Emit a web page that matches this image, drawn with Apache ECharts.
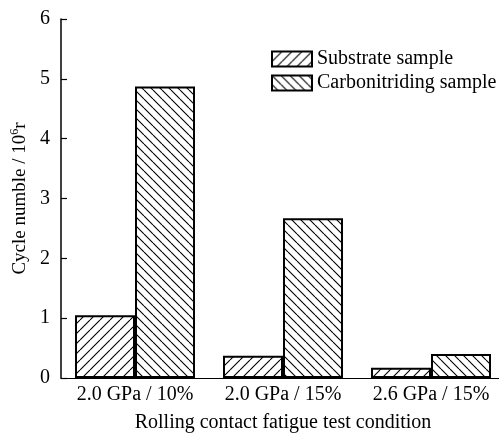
<!DOCTYPE html>
<html>
<head>
<meta charset="utf-8">
<script src="https://cdn.jsdelivr.net/npm/echarts@6/dist/echarts.min.js"></script>
<style>
  html, body { margin: 0; padding: 0; background: #fff; }
  #main { width: 499px; height: 433px; }
</style>
</head>
<body>
<div id="main"></div>
<script>
const categories = ['2.0 GPa / 10%', '2.0 GPa / 15%', '2.6 GPa / 15%'];
const substrate = [1.05, 0.37, 0.17];
const carbonitriding = [4.87, 2.67, 0.40];
const seriesNames = ['Substrate sample', 'Carbonitriding sample'];

// hatch tile: dir 1 = "/", dir -1 = "\"
function hatch(step, dir) {
  const c = document.createElement('canvas');
  c.width = step;
  c.height = step;
  const ctx = c.getContext('2d');
  ctx.fillStyle = '#fff';
  ctx.fillRect(0, 0, step, step);
  ctx.strokeStyle = '#000';
  ctx.lineWidth = 1.1;
  ctx.beginPath();
  for (let k = -1; k <= 1; k++) {
    if (dir > 0) {
      ctx.moveTo(k * step, step);
      ctx.lineTo(k * step + step, 0);
    } else {
      ctx.moveTo(k * step, 0);
      ctx.lineTo(k * step + step, step);
    }
  }
  ctx.stroke();
  return { image: c, repeat: 'repeat' };
}

const font = '"Liberation Serif", "DejaVu Serif", serif';
const chart = echarts.init(document.getElementById('main'));

chart.setOption({
  animation: false,
  textStyle: { fontFamily: font },
  grid: { left: 61, right: -6, top: 19, bottom: 55, containLabel: false, outerBoundsMode: 'none' },
  legend: {
    data: seriesNames,
    orient: 'vertical',
    left: 266,
    top: 44,
    icon: 'rect',
    itemWidth: 40,
    itemHeight: 15,
    itemGap: 4,
    itemStyle: { borderColor: '#000', borderWidth: 2 },
    textStyle: { fontFamily: font, fontSize: 20, color: '#000' }
  },
  xAxis: {
    type: 'category',
    data: categories,
    name: 'Rolling contact fatigue test condition',
    nameLocation: 'middle',
    nameGap: 35,
    nameTextStyle: { fontFamily: font, fontSize: 20, color: '#000', verticalAlign: 'top' },
    axisLine: { lineStyle: { color: '#000', width: 1 } },
    axisTick: { show: false },
    axisLabel: { interval: 0, fontFamily: font, fontSize: 20, color: '#000', margin: 7 }
  },
  yAxis: {
    type: 'value',
    min: 0,
    max: 6,
    interval: 1,
    name: 'Cycle numble / 10{sup|6}r',
    nameLocation: 'middle',
    nameRotate: 90,
    nameGap: 21,
    nameTextStyle: {
      fontFamily: font, fontSize: 19, color: '#000',
      rich: { sup: { fontFamily: font, fontSize: 12, color: '#000', verticalAlign: 'top', padding: [0, 0, 9, 0] } }
    },
    axisLine: { show: true, lineStyle: { color: '#000', width: 1.5 } },
    axisTick: { show: true, inside: true, length: 6, lineStyle: { color: '#000', width: 1.2 } },
    axisLabel: { fontFamily: font, fontSize: 20, color: '#000', margin: 11 },
    splitLine: { show: false }
  },
  series: [
    {
      name: seriesNames[0],
      type: 'bar',
      data: substrate,
      barWidth: 60,
      barGap: '0%',
      itemStyle: { color: hatch(10, 1), borderColor: '#000', borderWidth: 2 }
    },
    {
      name: seriesNames[1],
      type: 'bar',
      data: carbonitriding,
      barWidth: 60,
      itemStyle: { color: hatch(9, -1), borderColor: '#000', borderWidth: 2 }
    }
  ]
});
</script>
</body>
</html>
